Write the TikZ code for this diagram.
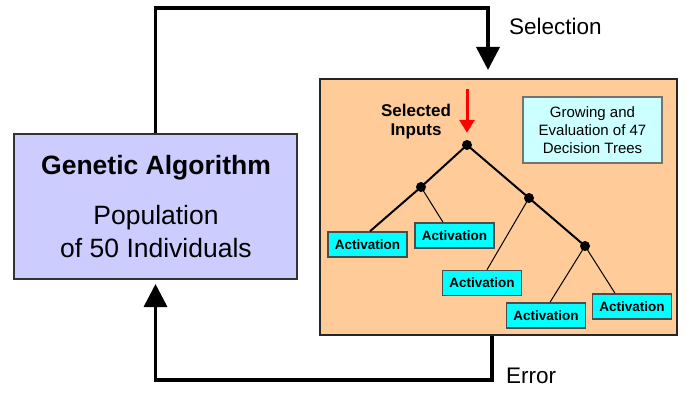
\documentclass[tikz,border=0pt]{standalone}
\usepackage{fontspec}
\setmainfont{Liberation Sans}
\usetikzlibrary{arrows.meta}

\definecolor{gablue}{HTML}{CCCCFF}
\definecolor{treepeach}{HTML}{FFCC99}
\definecolor{actcyan}{HTML}{00FFFF}
\definecolor{infocyan}{HTML}{CCFFFF}

\tikzset{
	gabox/.style = {draw = black!80, line width = 2pt, fill = gablue, minimum width = 283pt, minimum height = 145pt},
	treebox/.style = {draw = black!85, line width = 2.5pt, fill = treepeach, minimum width = 357pt, minimum height = 256pt},
	actbox/.style = {draw = black!70, line width = 1.5pt, fill = actcyan, minimum width = 79pt, minimum height = 25pt, inner sep = 0pt, font = \fontsize{13.5}{16}\selectfont\bfseries},
	infobox/.style = {draw = black!55, line width = 1.5pt, fill = infocyan, minimum width = 139pt, minimum height = 66pt, inner sep = 0pt, align = center, font = \fontsize{15}{18}\selectfont},
	knot/.style = {circle, fill = black, inner sep = 0pt, minimum size = 10pt},
	feedback/.style = {line width = 3.5pt, -{Triangle[width = 23pt, length = 23pt]}},
	branch/.style = {line width = 2pt},
	twig/.style = {line width = 1pt},
	bigtext/.style = {font = \fontsize{26.5}{30}\selectfont},
	looptext/.style = {font = \fontsize{22.5}{27}\selectfont, inner sep = 0pt}
}

\begin{document}
\begin{tikzpicture}[x = 1pt, y = -1pt]

	\useasboundingbox (0, 0) rectangle (692, 393);

	% Genetic algorithm block
	
	\node [gabox] (ga) at (155.5, 206.5) {};
	\node [bigtext, anchor = base, font = \fontsize{26.5}{30}\selectfont\bfseries] (gatitle) at (156, 174) {Genetic Algorithm};
	\node [bigtext, anchor = base] (gapop) at (156, 224) {Population};
	\node [bigtext, anchor = base] (gaind) at (156, 257) {of 50 Individuals};
	
	% Decision tree block
	
	\node [treebox] (tree) at (498.5, 207) {};
	\node [infobox] (info) at (592.5, 130) {Growing and\\Evaluation of 47\\Decision Trees};
	\node [anchor = base, font = \fontsize{17}{19}\selectfont\bfseries] (selA) at (416, 116) {Selected};
	\node [anchor = base, font = \fontsize{17}{19}\selectfont\bfseries] (selB) at (416, 135) {Inputs};
	
	% Tree knots and leaves
	
	\node [knot] (root) at (467, 145) {};
	\node [knot] (na) at (421, 187) {};
	\node [knot] (nb) at (529, 198) {};
	\node [knot] (nc) at (585, 246) {};
	
	\node [actbox] (act1) at (367.5, 244.5) {Activation};
	\node [actbox] (act2) at (454.5, 235.5) {Activation};
	\node [actbox] (act3) at (482, 283) {Activation};
	\node [actbox] (act4) at (546, 315.5) {Activation};
	\node [actbox] (act5) at (632, 306.5) {Activation};
	
	\draw [branch] (root.center) -- (na.center);
	\draw [branch] (root.center) -- (nb.center);
	\draw [branch] (nb.center) -- (nc.center);
	\draw [branch] (na.center) -- ([xshift = 2.5pt] act1.north);
	\draw [twig] (na.center) -- ([xshift = -11.5pt] act2.north);
	\draw [twig] (nb.center) -- ([xshift = 5pt] act3.north);
	\draw [twig] (nc.center) -- ([xshift = 4pt] act4.north);
	\draw [twig] (nc.center) -- ([xshift = -17pt] act5.north);
	
	% Red arrow into the root
	
	\coordinate (redtop) at (467, 89);
	\draw [red, line width = 3pt, -{Triangle[width = 15pt, length = 13pt]}] (redtop) -- ([yshift = 7pt] root.north);
	
	% Selection and error loops
	
	\coordinate (selcorner) at (488, 8);
	\coordinate (selin) at (488, 70);
	\coordinate (errcorner) at (492, 380);
	
	\draw [feedback] (ga.north) |- (selcorner) -- (selin);
	\draw [feedback] (errcorner |- tree.south) -- (errcorner) -| ([yshift = -4pt] ga.south);
	
	\node [looptext, anchor = base west] (sellabel) at (509, 35) {Selection};
	\node [looptext, anchor = base west] (errlabel) at (506, 383) {Error};

\end{tikzpicture}
\end{document}
